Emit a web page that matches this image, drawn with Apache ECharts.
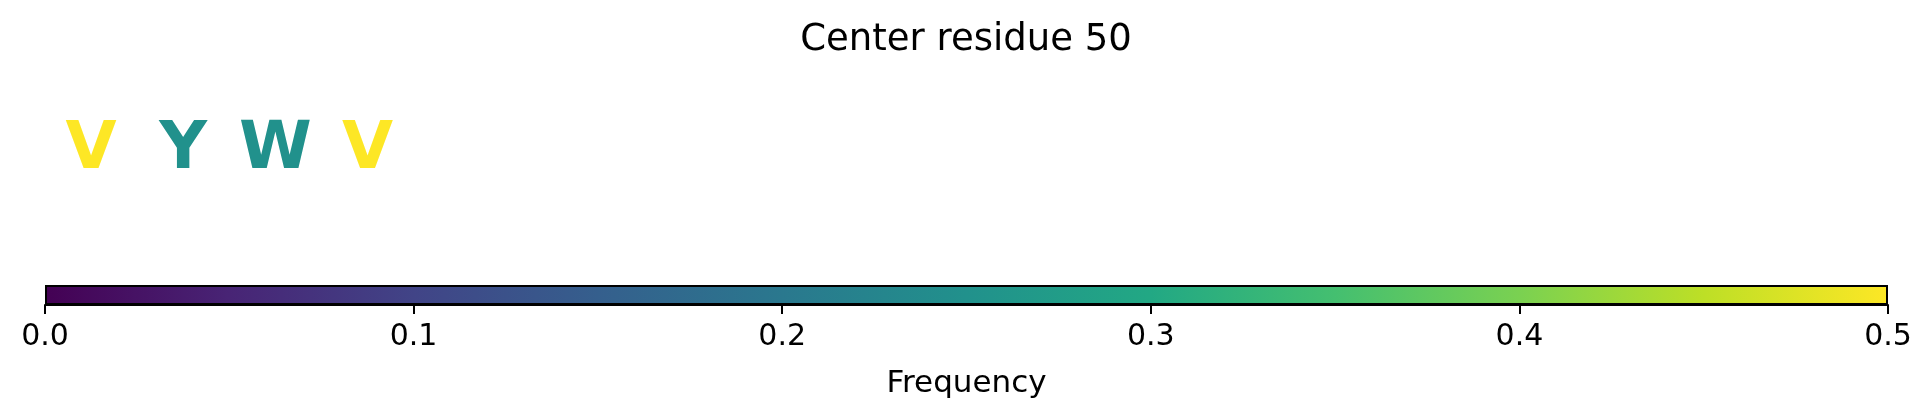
<!DOCTYPE html>
<html>
<head>
<meta charset="utf-8">
<script src="https://cdn.jsdelivr.net/npm/echarts@6/dist/echarts.min.js"></script>
<style>
html,body{margin:0;padding:0;background:#fff;}
#chart{width:1932px;height:416px;}
</style>
</head>
<body>
<div id="chart"></div>
<script>
const titleText = 'Center residue 50';
const letters = ['V', 'Y', 'W', 'V'];
const positions = [0.5, 1.5, 2.5, 3.5];
const frequencies = [0.5, 0.25, 0.25, 0.5];
const colorbarMin = 0;
const colorbarMax = 0.5;
const tickValues = [0.0, 0.1, 0.2, 0.3, 0.4, 0.5];
const axisName = 'Frequency';
const viridis = ['#440154','#482475','#414487','#355f8d','#2a788e','#21918c','#22a884','#44bf70','#7ad151','#bddf26','#fde725'];

const FONT = 'DejaVu Sans';
const chart = echarts.init(document.getElementById('chart'), null, {renderer: 'canvas'});

const letterData = letters.map((l, i) => ({value: [positions[i], 0.5, frequencies[i]], name: l}));

const option = {
  backgroundColor: '#ffffff',
  animation: false,
  title: {
    text: titleText,
    left: 'center',
    top: 17,
    textStyle: {fontFamily: FONT, fontSize: 37, fontWeight: 'normal', color: '#000'}
  },
  visualMap: {
    type: 'continuous',
    show: false,
    seriesIndex: 0,
    dimension: 2,
    min: colorbarMin,
    max: colorbarMax,
    inRange: {color: viridis}
  },
  grid: [
    {left: 45, right: 44, top: 88, height: 126},
    {left: 45, right: 44, top: 285, height: 20}
  ],
  xAxis: [
    {gridIndex: 0, type: 'value', min: 0, max: 20, show: false},
    {
      gridIndex: 1, type: 'value', min: colorbarMin, max: colorbarMax, interval: 0.1,
      axisLine: {show: true, lineStyle: {color: '#000', width: 2}},
      axisTick: {show: true, length: 9, lineStyle: {color: '#000', width: 2}},
      axisLabel: {
        fontFamily: FONT, fontSize: 30, color: '#000', margin: 17,
        showMinLabel: true, showMaxLabel: true,
        formatter: v => (Math.round(v * 10) / 10).toFixed(1)
      },
      splitLine: {show: false},
      name: axisName, nameLocation: 'middle', nameGap: 63,
      nameTextStyle: {fontFamily: FONT, fontSize: 31, color: '#000'}
    }
  ],
  yAxis: [
    {gridIndex: 0, type: 'value', min: 0, max: 1, show: false},
    {gridIndex: 1, type: 'category', data: ['cb'], show: false}
  ],
  series: [
    {
      type: 'scatter',
      xAxisIndex: 0, yAxisIndex: 0,
      symbolSize: 0,
      itemStyle: {opacity: 1},
      data: letterData,
      label: {
        show: true,
        position: 'inside',
        formatter: p => p.name,
        fontFamily: FONT,
        fontWeight: 'bold',
        fontSize: 66,
        color: 'inherit',
        opacity: 1
      },
      emphasis: {disabled: true}
    },
    {
      type: 'bar',
      xAxisIndex: 1, yAxisIndex: 1,
      barWidth: '100%',
      data: [colorbarMax],
      itemStyle: {
        borderColor: '#000',
        borderWidth: 2,
        color: new echarts.graphic.LinearGradient(0, 0, 1, 0,
          viridis.map((c, i) => ({offset: i / (viridis.length - 1), color: c})))
      },
      emphasis: {disabled: true},
      z: 1
    }
  ]
};
chart.setOption(option);
</script>
</body>
</html>
